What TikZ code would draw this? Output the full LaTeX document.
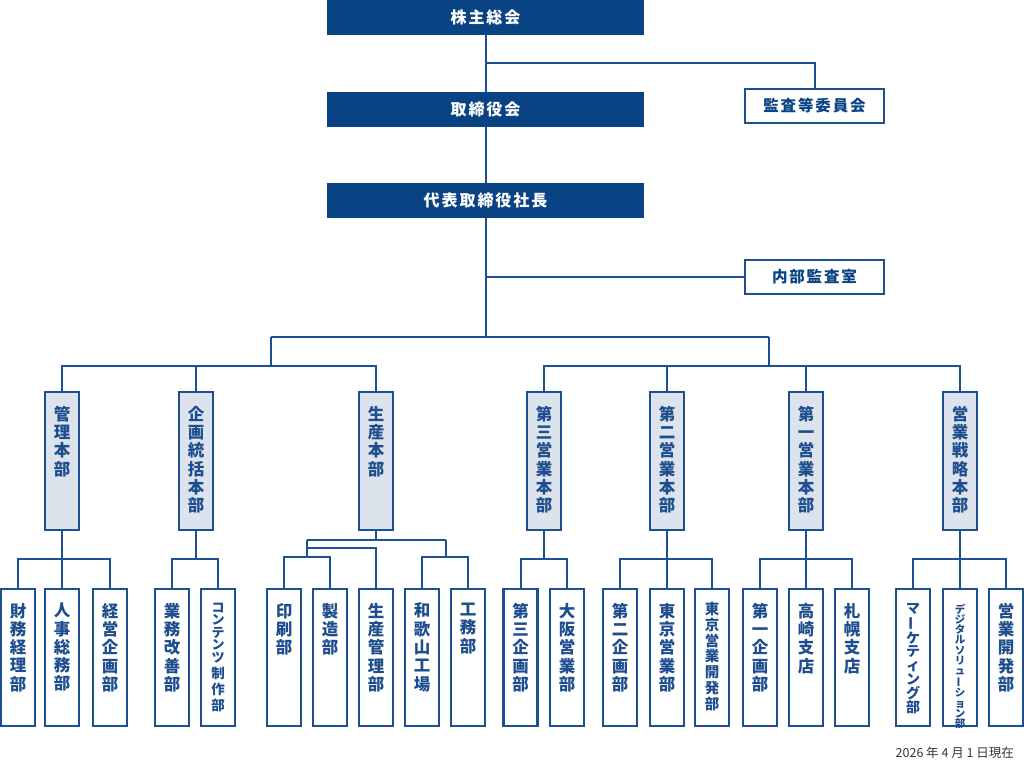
\documentclass[tikz,border=0pt]{standalone}
\usepackage{fontspec}
\usetikzlibrary{calc}
\setmainfont{Noto Sans CJK JP}
\newfontfamily\jpls{Noto Sans CJK JP}[LetterSpace=12]
\definecolor{navy}{HTML}{0A4384}
\definecolor{lineblue}{HTML}{1D4F91}
\definecolor{paleblue}{HTML}{DCE3EC}
\definecolor{txtblue}{HTML}{1E4E8E}
\definecolor{dategray}{HTML}{333333}
\newcommand{\vbar}{\rotatebox[origin=c]{90}{ー}}
\tikzset{
  topbox/.style={fill=navy, draw=none, minimum width=317, minimum height=35, inner sep=0,
    text=white, font=\jpls\bfseries\fontsize{16}{18}\selectfont},
  sidebox/.style={fill=white, draw=lineblue, line width=2.2, minimum width=139, minimum height=34,
    inner sep=0, text=navy, font=\jpls\bfseries\fontsize{15.5}{18}\selectfont},
  deptbox/.style={fill=paleblue, draw=lineblue, line width=2.4, minimum width=34, minimum height=138, inner sep=0},
  subbox/.style={fill=white, draw=lineblue, line width=2.4, minimum width=34, minimum height=137, inner sep=0},
  vtext/.style={anchor=north, inner sep=0, align=center, text=txtblue, font=\bfseries\fontsize{16.5}{18.3}\selectfont},
  conn/.style={draw=lineblue, line width=2}
}
\begin{document}
\begin{tikzpicture}[x=1pt,y=-1pt]
\useasboundingbox (0,0) rectangle (1024,771);
% ---- top level ----
\node[topbox] (kabu) at (485.5,17.5) {株主総会};
\node[topbox] (tori) at (485.5,109.5) {取締役会};
\node[topbox] (pres) at (485.5,200.5) {代表取締役社長};
\node[sidebox] (kansa) at (814.5,106) {監査等委員会};
\node[sidebox] (naibu) at (814.5,277) {内部監査室};
% ---- departments ----
\foreach \n/\x in {kanri/62, kikaku/196, seisan/376, dai3/544, dai2/667, dai1/806, senryaku/960}
  \node[deptbox] (\n) at (\x,461) {};
\node[vtext] (kanrit) at ($(kanri.north)+(0,15)$) {管\\理\\本\\部};
\node[vtext] (kikakut) at ($(kikaku.north)+(0,15)$) {企\\画\\統\\括\\本\\部};
\node[vtext] (seisant) at ($(seisan.north)+(0,15)$) {生\\産\\本\\部};
\node[vtext] (dai3t) at ($(dai3.north)+(0,15)$) {第\\三\\営\\業\\本\\部};
\node[vtext] (dai2t) at ($(dai2.north)+(0,15)$) {第\\二\\営\\業\\本\\部};
\node[vtext] (dai1t) at ($(dai1.north)+(0,15)$) {第\\一\\営\\業\\本\\部};
\node[vtext] (senryakut) at ($(senryaku.north)+(0,15)$) {営\\業\\戦\\略\\本\\部};
% ---- sections ----
\foreach \n/\x in {zaimu/18, jinji/62, keiei/110, gyomu/172, content/218,
  insatsu/284, seizo/330, seikan/376, waka/422, koumu/468,
  kikaku3/520.5, osaka/567, kikaku2/620, tokyo/667, tokyokai/712,
  kikaku1/760, takasaki/806, sapporo/852,
  marketing/913, digital/960, eikai/1006}
  \node[subbox] (\n) at (\x,657.5) {};
\node[vtext] at ($(zaimu.north)+(0,15)$) {財\\務\\経\\理\\部};
\node[vtext] at ($(jinji.north)+(0,15)$) {人\\事\\総\\務\\部};
\node[vtext] at ($(keiei.north)+(0,15)$) {経\\営\\企\\画\\部};
\node[vtext] at ($(gyomu.north)+(0,15)$) {業\\務\\改\\善\\部};
\node[vtext, font=\bfseries\fontsize{13}{12.5}\selectfont] (ct1) at ($(content.north)+(0,15)$) {コ\\ン\\テ\\ン\\ツ};
\node[vtext, font=\bfseries\fontsize{13.5}{16}\selectfont] (ct2) at ($(ct1.south)+(0,4)$) {制\\作\\部};
\node[vtext] at ($(insatsu.north)+(0,15)$) {印\\刷\\部};
\node[vtext] at ($(seizo.north)+(0,15)$) {製\\造\\部};
\node[vtext] at ($(seikan.north)+(0,15)$) {生\\産\\管\\理\\部};
\node[vtext] at ($(waka.north)+(0,15)$) {和\\歌\\山\\工\\場};
\node[vtext] at ($(koumu.north)+(0,15)$) {工\\務\\部};
\node[vtext] at ($(kikaku3.north)+(0,15)$) {第\\三\\企\\画\\部};
\node[vtext] at ($(osaka.north)+(0,15)$) {大\\阪\\営\\業\\部};
\node[vtext] at ($(kikaku2.north)+(0,15)$) {第\\二\\企\\画\\部};
\node[vtext] at ($(tokyo.north)+(0,15)$) {東\\京\\営\\業\\部};
\node[vtext, font=\bfseries\fontsize{14.5}{15.8}\selectfont] at ($(tokyokai.north)+(0,14)$) {東\\京\\営\\業\\開\\発\\部};
\node[vtext] at ($(kikaku1.north)+(0,15)$) {第\\一\\企\\画\\部};
\node[vtext] at ($(takasaki.north)+(0,15)$) {高\\崎\\支\\店};
\node[vtext] at ($(sapporo.north)+(0,15)$) {札\\幌\\支\\店};
\node[vtext, font=\bfseries\fontsize{14}{13.8}\selectfont] at ($(marketing.north)+(0,15)$) {マ\\\vbar\\ケ\\テ\\ィ\\ン\\グ\\部};
\node[vtext, font=\bfseries\fontsize{10.5}{10.2}\selectfont] at ($(digital.north)+(0,16)$) {デ\\ジ\\タ\\ル\\ソ\\リ\\ュ\\\vbar\\シ\\ョ\\ン\\部};
\node[vtext] at ($(eikai.north)+(0,15)$) {営\\業\\開\\発\\部};
% ---- date ----
\node[anchor=east, inner sep=0, text=dategray, font=\fontsize{12.5}{14}\selectfont] (date) at (1014,753) {2026 年 4 月 1 日現在};
% ---- connectors: top ----
\coordinate (j1) at (485.5,63);
\coordinate (j2) at (485.5,277);
\coordinate (T) at (485.5,337);
\coordinate (L) at (271,337);
\coordinate (R) at (769,337);
\coordinate (L2) at (271,366);
\coordinate (R2) at (769,366);
\draw[conn] (kabu.south) -- (tori.north);
\draw[conn] (j1) -| (kansa.north);
\draw[conn] (tori.south) -- (pres.north);
\draw[conn] (pres.south) -- (T);
\draw[conn] (j2) -- (naibu.west);
\draw[conn] (L) -- (R);
\draw[conn] (L) -- (L2);
\draw[conn] (R) -- (R2);
\draw[conn] (kanri.north) |- (L2) -| (seisan.north);
\draw[conn] (kikaku.north) -- (kikaku.north |- L2);
\draw[conn] (dai3.north) |- (R2) -| (senryaku.north);
\draw[conn] (dai2.north) -- (dai2.north |- R2);
\draw[conn] (dai1.north) -- (dai1.north |- R2);
% ---- connectors: sections ----
\coordinate (kb) at (62,559);
\draw[conn] (kanri.south) -- (jinji.north);
\draw[conn] (zaimu.north) |- (kb) -| (keiei.north);
\coordinate (kkb) at (196,559);
\draw[conn] (kikaku.south) -- (kkb);
\draw[conn] (gyomu.north) |- (kkb) -| (content.north);
\coordinate (sA) at (307,540);
\coordinate (sB) at (446,540);
\coordinate (sC) at (307,557);
\coordinate (sD) at (307,548);
\coordinate (sE) at (446,557);
\draw[conn] (seisan.south) -- (seisan.south |- sA);
\draw[conn] (sA) -- (sB);
\draw[conn] (sA) -- (sC);
\draw[conn] (insatsu.north) |- (sC) -| (seizo.north);
\draw[conn] (sD) -| (seikan.north);
\draw[conn] (sB) -- (sE);
\draw[conn] (waka.north) |- (sE) -| (koumu.north);
\coordinate (d3b) at (544,559);
\draw[conn] (dai3.south) -- (d3b);
\draw[conn] (kikaku3.north) |- (d3b) -| (osaka.north);
\coordinate (d2b) at (667,559);
\draw[conn] (dai2.south) -- (tokyo.north);
\draw[conn] (kikaku2.north) |- (d2b) -| (tokyokai.north);
\coordinate (d1b) at (806,559);
\draw[conn] (dai1.south) -- (takasaki.north);
\draw[conn] (kikaku1.north) |- (d1b) -| (sapporo.north);
\coordinate (esb) at (960,559);
\draw[conn] (senryaku.south) -- (digital.north);
\draw[conn] (marketing.north) |- (esb) -| (eikai.north);
\end{tikzpicture}
\end{document}
